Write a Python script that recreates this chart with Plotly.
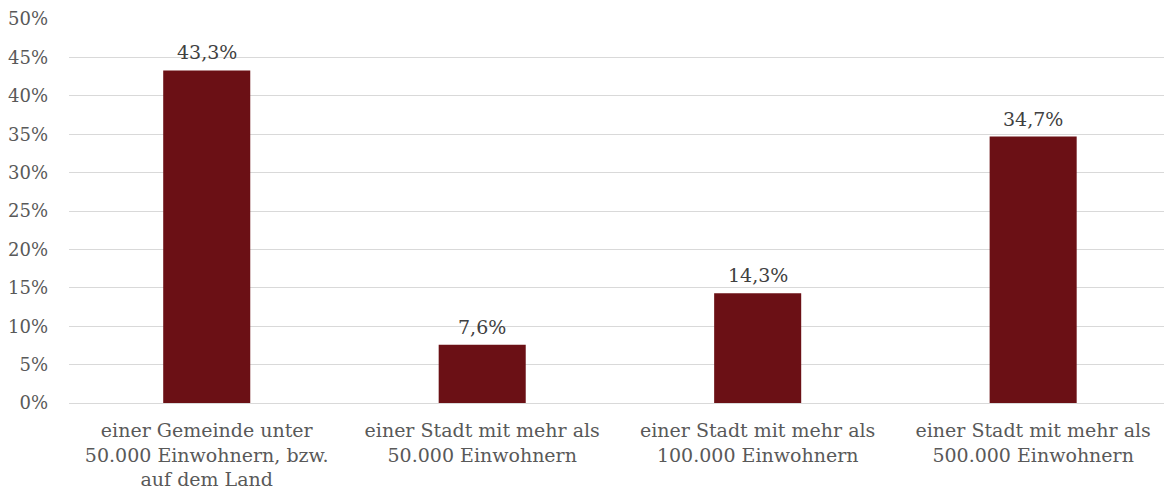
import plotly.graph_objects as go

categories = [
    "einer Gemeinde unter<br>50.000 Einwohnern, bzw.<br>auf dem Land",
    "einer Stadt mit mehr als<br>50.000 Einwohnern",
    "einer Stadt mit mehr als<br>100.000 Einwohnern",
    "einer Stadt mit mehr als<br>500.000 Einwohnern",
]
values = [43.3, 7.6, 14.3, 34.7]
y_ticks = [0, 5, 10, 15, 20, 25, 30, 35, 40, 45, 50]
y_tick_labels = [f"{t}%" for t in y_ticks]

FONT = "DejaVu Serif, Liberation Serif, serif"
BAR_COLOR = "#6b1015"

x_pos = list(range(len(categories)))

fig = go.Figure(
    go.Bar(
        x=x_pos,
        y=values,
        width=0.316,
        marker=dict(color=BAR_COLOR, line=dict(width=0)),
        hoverinfo="skip",
    )
)

# value labels above each bar
for xi, v in zip(x_pos, values):
    fig.add_annotation(
        x=xi,
        y=v,
        text=f"{v:.1f}%".replace(".", ","),
        showarrow=False,
        yanchor="bottom",
        yshift=5,
        font=dict(family=FONT, size=19, color="#404040"),
    )

fig.update_layout(
    width=1164,
    height=495,
    margin=dict(l=69, r=0, t=19, b=92),
    paper_bgcolor="white",
    plot_bgcolor="white",
    showlegend=False,
    font=dict(family=FONT, size=19, color="#595959"),
    xaxis=dict(
        tickmode="array",
        tickvals=x_pos,
        ticktext=categories,
        range=[-0.5, 3.475],
        showgrid=False,
        zeroline=False,
        showline=False,
        ticks="",
        ticklabelstandoff=14,
        tickfont=dict(family=FONT, size=19, color="#595959"),
    ),
    yaxis=dict(
        range=[0, 50],
        tickmode="array",
        tickvals=y_ticks,
        ticktext=y_tick_labels,
        showgrid=True,
        gridcolor="#d9d9d9",
        gridwidth=1,
        zeroline=True,
        zerolinecolor="#d9d9d9",
        zerolinewidth=1,
        showline=False,
        ticks="",
        ticklabelstandoff=20,
        tickfont=dict(family=FONT, size=18, color="#595959"),
    ),
)

fig.write_html("out.html")
